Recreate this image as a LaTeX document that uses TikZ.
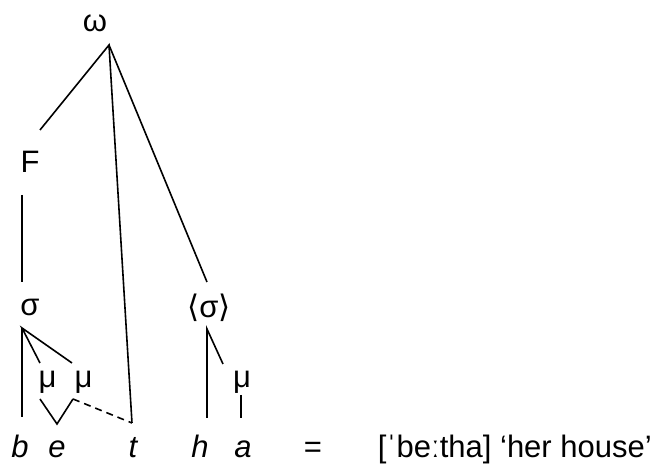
\documentclass[tikz,border=0pt]{standalone}
\usepackage{fontspec}
\setmainfont{Liberation Sans}
\newfontfamily\symfont{DejaVu Sans}

\begin{document}
\begin{tikzpicture}[x=0.5pt,y=-0.5pt,line width=0.8pt,
    every node/.style={font=\fontsize{15.5}{18}\selectfont, inner sep=0pt}]
    \useasboundingbox (0,0) rectangle (661,466);
    \pgfmathsetmacro{\yb}{458}
    \pgfmathsetmacro{\ym}{382.5}
    \pgfmathsetmacro{\ys}{307.5}

    \coordinate (W) at (109,45);
    \coordinate (Fa) at (40,130);
    \coordinate (Fb) at (22,195);
    \coordinate (Sa) at (22,282);
    \coordinate (S) at (22,328);
    \coordinate (Ma) at (40,363);
    \coordinate (Mb) at (72,363);
    \coordinate (Bt) at (22,417);
    \coordinate (Ea) at (40,399);
    \coordinate (Et) at (57,424);
    \coordinate (Eb) at (73,399);
    \coordinate (Tt) at (132,423);
    \coordinate (Ra) at (207,282);
    \coordinate (R) at (207,329);
    \coordinate (Mc) at (223,364);
    \coordinate (Ht) at (207,418);
    \coordinate (Md) at (241,395);
    \coordinate (At) at (241,418);

    \draw (Fa)--(W)--(Tt);
    \draw (W)--(Ra);
    \draw (Fb)--(Sa);
    \draw (Ma)--(S)--(Mb);
    \draw (S)--(Bt);
    \draw (Ea)--(Et)--(Eb);
    \draw [dash pattern=on 3.5pt off 2.5pt] (Eb)--(Tt);
    \draw (Ht)--(R)--(Mc);
    \draw (Md)--(At);

    \node (omega) at (95,23.5) {ω};
    \node (foot) at (30,161.5) {F};
    \node (syl) at (30,\ys) {σ};
    \node (esyl) at (209,\ys) {{\symfont ⟨}σ{\symfont ⟩}};
    \node (mu1) at (47.5,\ym) {μ};
    \node (mu2) at (83.5,\ym) {μ};
    \node (mu3) at (242,\ym) {μ};

    \node[anchor=base] (b) at (20,\yb) {\itshape b};
    \node[anchor=base] (e) at (57,\yb) {\itshape e};
    \node[anchor=base] (t) at (133,\yb) {\itshape t};
    \node[anchor=base] (h) at (200,\yb) {\itshape h};
    \node[anchor=base] (a) at (243,\yb) {\itshape a};
    \node[anchor=base] (eq) at (313,\yb) {=};
    \node[anchor=base west] (gloss) at (377,\yb) {[ˈbeːtha] ‘her house’};
\end{tikzpicture}
\end{document}
